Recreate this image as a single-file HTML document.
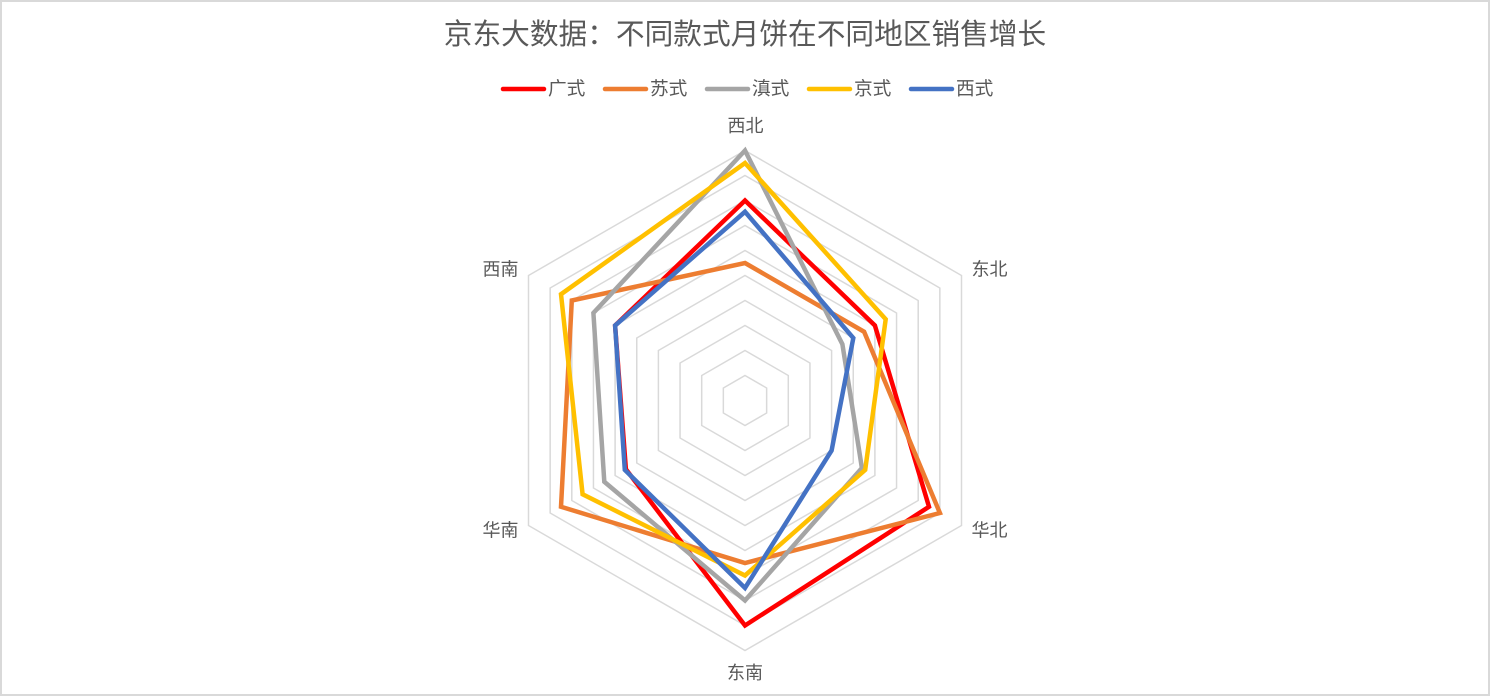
<!DOCTYPE html>
<html>
<head>
<meta charset="utf-8">
<style>
html,body{margin:0;padding:0;background:#fff;}
.wrap{width:1490px;height:696px;box-sizing:border-box;border:2px solid #d9d9d9;position:relative;overflow:hidden;}
svg{position:absolute;left:-2px;top:-2px;}
text{font-family:"Liberation Sans","Noto Sans CJK SC",sans-serif;fill:#595959;}
</style>
</head>
<body>
<div class="wrap">
<svg width="1490" height="696" viewBox="0 0 1490 696" xmlns="http://www.w3.org/2000/svg">
  <text x="745" y="35" font-size="28.7" text-anchor="middle" dominant-baseline="central">京东大数据：不同款式月饼在不同地区销售增长</text>

  <!-- legend -->
  <g stroke-width="4.5" stroke-linecap="round">
    <line x1="503" y1="89" x2="544" y2="89" stroke="#FF0000"/>
    <line x1="605" y1="89" x2="646" y2="89" stroke="#ED7D31"/>
    <line x1="707" y1="89" x2="748" y2="89" stroke="#A5A5A5"/>
    <line x1="809" y1="89" x2="850" y2="89" stroke="#FFC000"/>
    <line x1="911" y1="89" x2="952" y2="89" stroke="#4472C4"/>
  </g>
  <g font-size="18.7" dominant-baseline="central">
    <text x="548" y="88.5">广式</text>
    <text x="650" y="88.5">苏式</text>
    <text x="752" y="88.5">滇式</text>
    <text x="854" y="88.5">京式</text>
    <text x="956" y="88.5">西式</text>
  </g>

  <!-- grid -->
  <g fill="none" stroke="#d9d9d9" stroke-width="1.5">
    <polygon points="745,375.5 766.65,388 766.65,413 745,425.5 723.35,413 723.35,388"/>
    <polygon points="745,350.5 788.3,375.5 788.3,425.5 745,450.5 701.7,425.5 701.7,375.5"/>
    <polygon points="745,325.5 809.95,363 809.95,438 745,475.5 680.05,438 680.05,363"/>
    <polygon points="745,300.5 831.6,350.5 831.6,450.5 745,500.5 658.4,450.5 658.4,350.5"/>
    <polygon points="745,275.5 853.25,338 853.25,463 745,525.5 636.75,463 636.75,338"/>
    <polygon points="745,250.5 874.9,325.5 874.9,475.5 745,550.5 615.1,475.5 615.1,325.5"/>
    <polygon points="745,225.5 896.55,313 896.55,488 745,575.5 593.45,488 593.45,313"/>
    <polygon points="745,200.5 918.2,300.5 918.2,500.5 745,600.5 571.8,500.5 571.8,300.5"/>
    <polygon points="745,175.5 939.85,288 939.85,513 745,625.5 550.15,513 550.15,288"/>
    <polygon points="745,150.5 961.5,275.5 961.5,525.5 745,650.5 528.5,525.5 528.5,275.5"/>
  </g>

  <!-- axis labels -->
  <g font-size="18" text-anchor="middle" dominant-baseline="central">
    <text x="745.5" y="126">西北</text>
    <text x="989.5" y="269.5">东北</text>
    <text x="989.5" y="530.5">华北</text>
    <text x="745" y="673">东南</text>
    <text x="500.5" y="530.5">华南</text>
    <text x="500.5" y="269.5">西南</text>
  </g>

  <!-- series -->
  <g fill="none" stroke-width="4.5" stroke-linejoin="miter" stroke-miterlimit="4">
    <polygon stroke="#FF0000" points="745,200.5 874.9,325.5 929,506.75 745,625.5 625.9,469.25 615.1,325.5"/>
    <polygon stroke="#ED7D31" points="745,263 864.1,331.75 939.9,513 745,563 561,506.75 571.8,300.5"/>
    <polygon stroke="#A5A5A5" points="745,150.5 842.4,344.25 861.9,468 745,600.5 604.3,481.75 593.4,313"/>
    <polygon stroke="#FFC000" points="745,163 885.7,319.25 865.2,469.9 745,575.5 582.6,494.25 561,294.25"/>
    <polygon stroke="#4472C4" points="745,211.75 853.3,338 831.6,450.5 745,588 624.8,469.9 615.1,325.5"/>
  </g>
</svg>
</div>
</body>
</html>
